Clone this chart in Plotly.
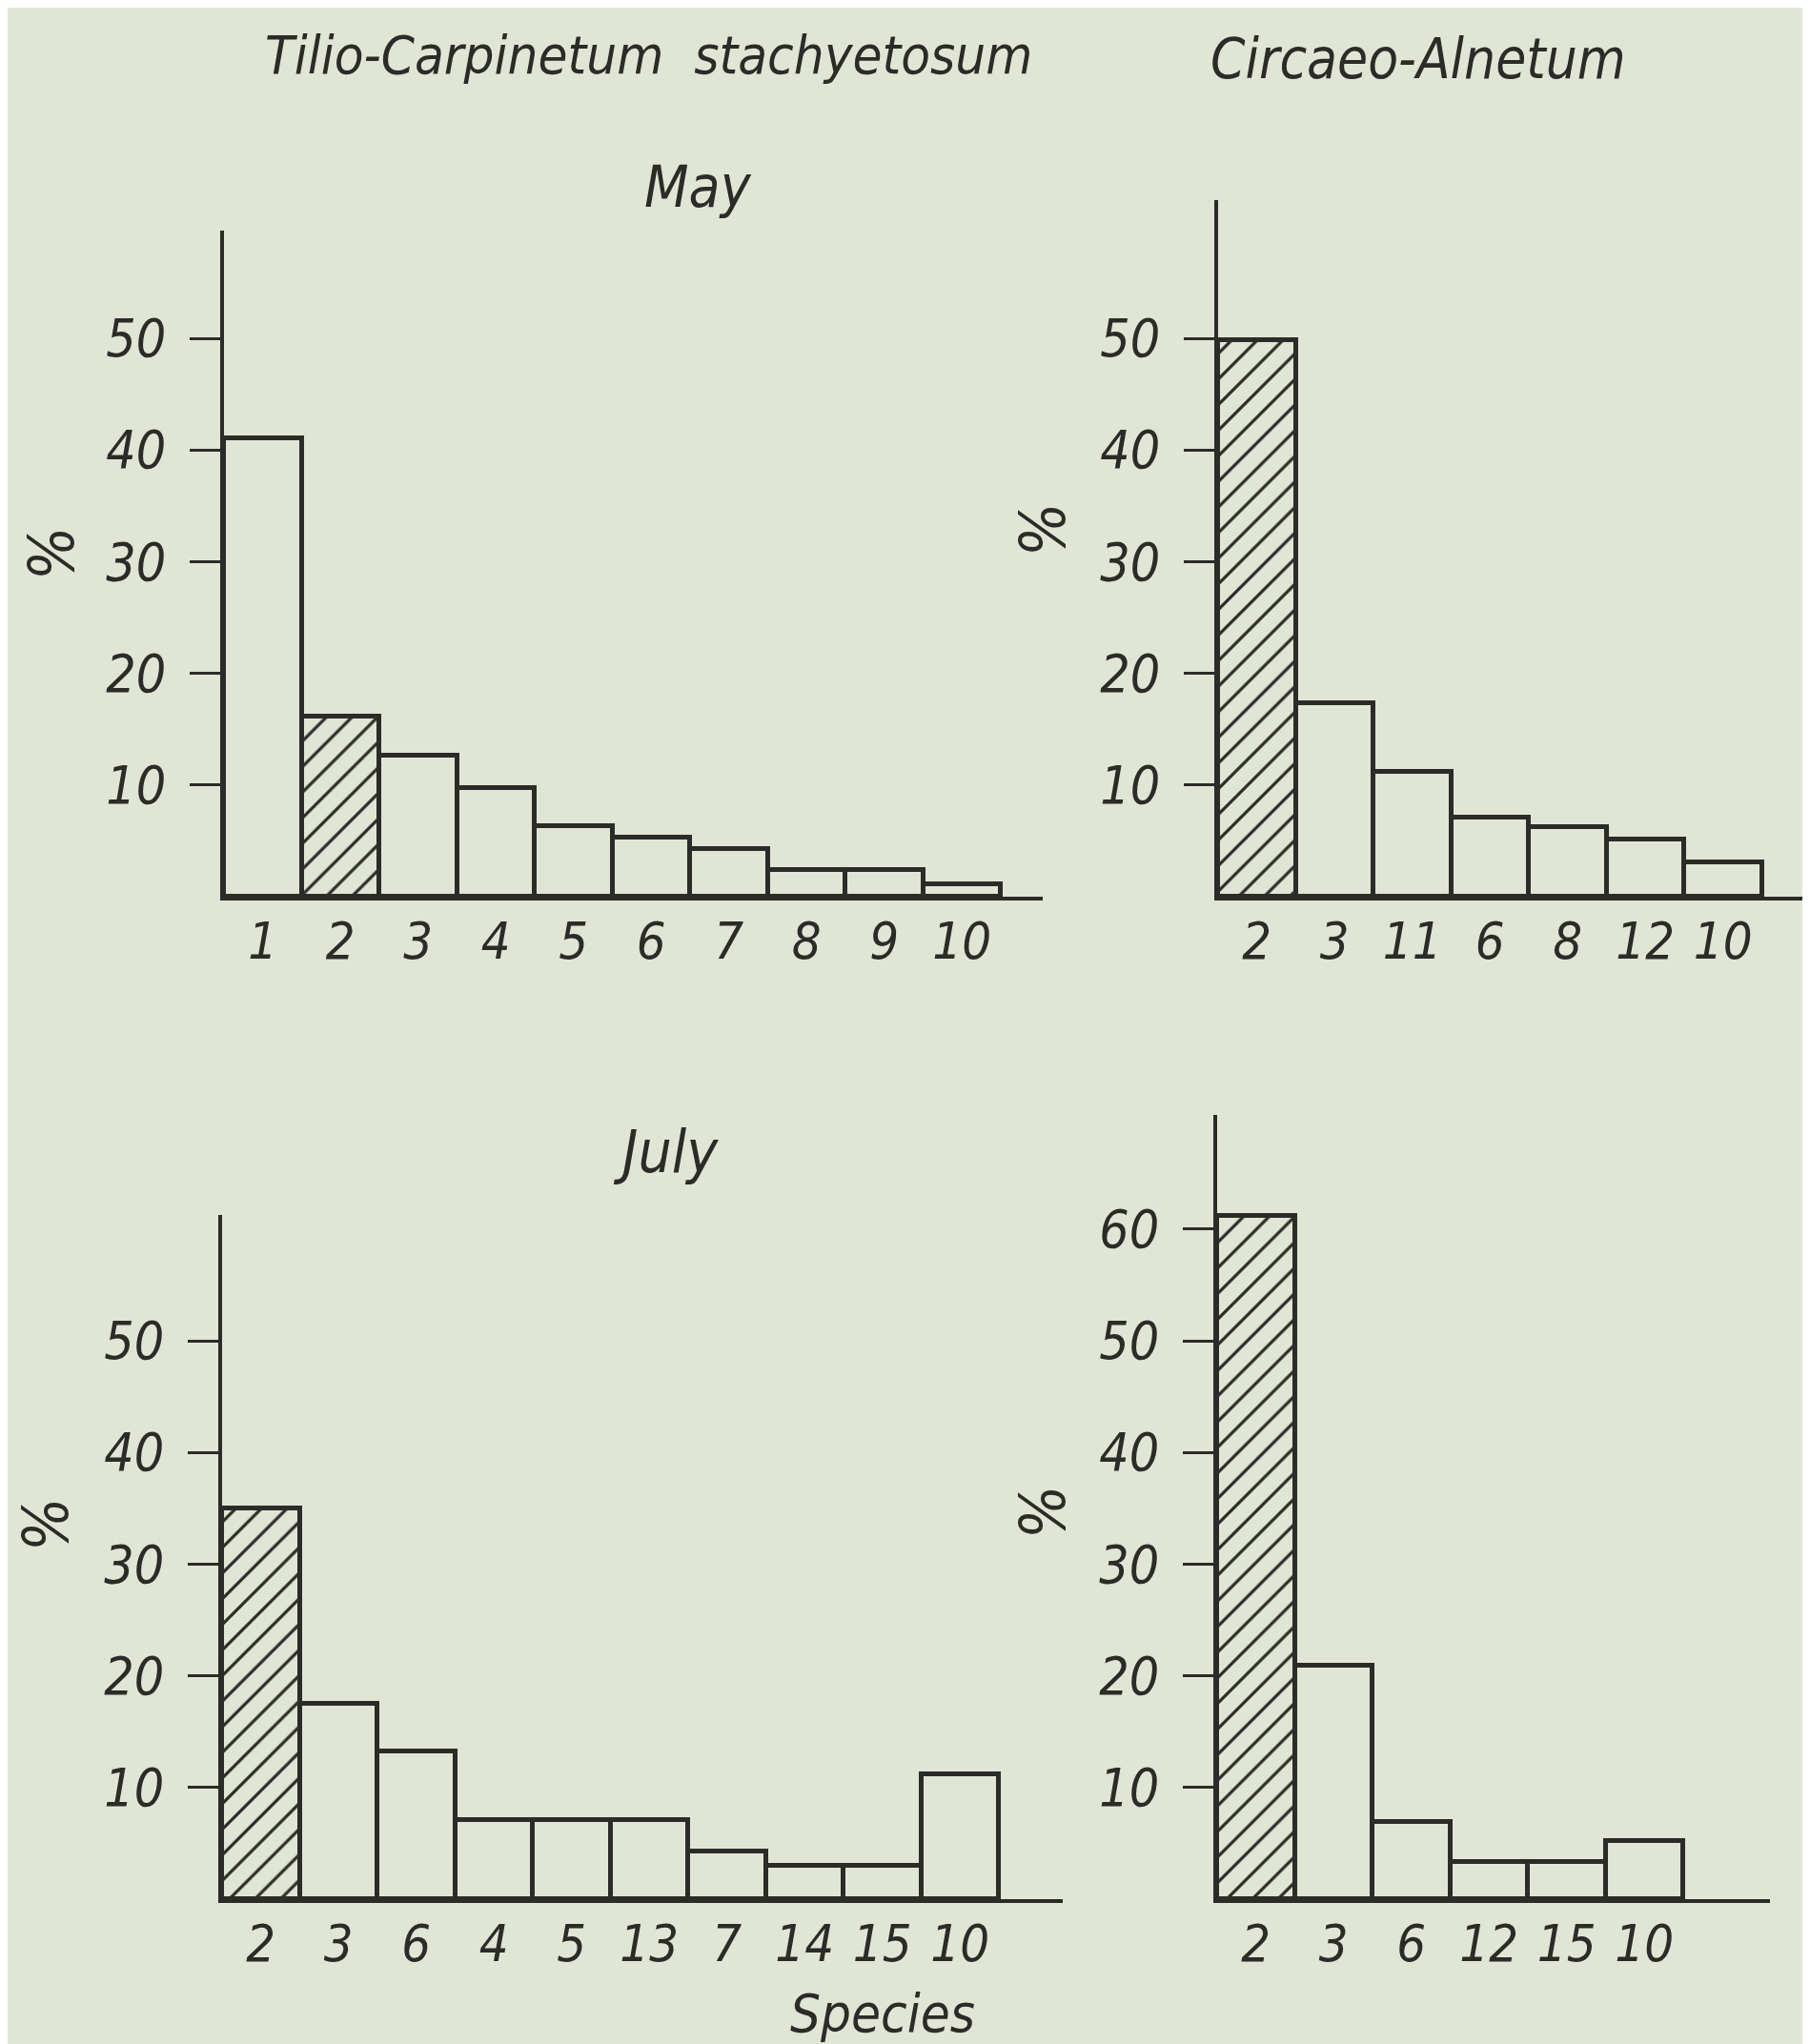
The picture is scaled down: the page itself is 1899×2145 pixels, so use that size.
import plotly.graph_objects as go

# ---------------- data ----------------
may_tilio_species = ["1", "2", "3", "4", "5", "6", "7", "8", "9", "10"]
may_tilio_pct = [41.0, 16.1, 12.6, 9.7, 6.3, 5.3, 4.3, 2.4, 2.4, 1.1]

may_circaeo_species = ["2", "3", "11", "6", "8", "12", "10"]
may_circaeo_pct = [49.8, 17.3, 11.2, 7.1, 6.2, 5.1, 3.1]

july_tilio_species = ["2", "3", "6", "4", "5", "13", "7", "14", "15", "10"]
july_tilio_pct = [35.0, 17.5, 13.2, 7.1, 7.1, 7.1, 4.3, 3.0, 3.0, 11.2]

july_circaeo_species = ["2", "3", "6", "12", "15", "10"]
july_circaeo_pct = [61.2, 20.9, 6.9, 3.3, 3.3, 5.2]

hatched_species = "2"

may_ticks = [10, 20, 30, 40, 50]
july_tilio_ticks = [10, 20, 30, 40, 50]
july_circaeo_ticks = [10, 20, 30, 40, 50, 60]

# ---------------- style ----------------
W, H = 1899, 2145
OFF = 8                      # page body margin of the html page
FW, FH = W - OFF, H - OFF    # figure size
BG = "#e1e5d5"
INK = "#2b2b27"
FONT = "DejaVu Sans Condensed, DejaVu Sans, sans-serif"


def px_x(p):
    return (p - OFF) / FW


def px_y(p):
    return 1 - (p - OFF) / FH


panels = [
    dict(species=may_tilio_species, pct=may_tilio_pct, ticks=may_ticks,
         x0=235, x1=1094, ybase=941, ytop=242),
    dict(species=may_circaeo_species, pct=may_circaeo_pct, ticks=may_ticks,
         x0=1278, x1=1899, ybase=941, ytop=210),
    dict(species=july_tilio_species, pct=july_tilio_pct, ticks=july_tilio_ticks,
         x0=233, x1=1115, ybase=1993, ytop=1275),
    dict(species=july_circaeo_species, pct=july_circaeo_pct, ticks=july_circaeo_ticks,
         x0=1277, x1=1857, ybase=1993, ytop=1170),
]
PX_PER_UNIT = 11.72
BAR_PX = 81.5

fig = go.Figure()
layout_axes = {}
for i, p in enumerate(panels, start=1):
    xa = "x" if i == 1 else f"x{i}"
    ya = "y" if i == 1 else f"y{i}"
    shapes = ["/" if s == hatched_species else "" for s in p["species"]]
    fig.add_trace(go.Bar(
        x=p["species"], y=p["pct"], xaxis=xa, yaxis=ya,
        marker=dict(color=BG, line=dict(color=INK, width=5),
                    pattern=dict(shape=shapes, fgcolor=INK, bgcolor=BG,
                                 fgopacity=1, size=19, solidity=0.17,
                                 fillmode="replace")),
        showlegend=False, hoverinfo="skip",
    ))
    n_cat = (p["x1"] - p["x0"]) / BAR_PX
    ymax = (p["ybase"] - p["ytop"]) / PX_PER_UNIT
    xkey = "xaxis" if i == 1 else f"xaxis{i}"
    ykey = "yaxis" if i == 1 else f"yaxis{i}"
    layout_axes[xkey] = dict(
        domain=[px_x(p["x0"]), min(1.0, px_x(p["x1"]))],
        anchor=ya, type="category",
        categoryorder="array", categoryarray=p["species"],
        range=[-0.5, -0.5 + n_cat],
        showline=True, linecolor=INK, linewidth=3.5,
        showgrid=False, zeroline=False, ticks="",
        tickfont=dict(family=FONT, size=54, color=INK, style="italic"),
        ticklabelstandoff=-4,
        fixedrange=True,
    )
    layout_axes[ykey] = dict(
        domain=[px_y(p["ybase"]), px_y(p["ytop"])],
        anchor=xa, range=[0, ymax],
        tickvals=p["ticks"], ticktext=[str(t) for t in p["ticks"]],
        showline=True, linecolor=INK, linewidth=3.5,
        showgrid=False, zeroline=False,
        ticks="outside", ticklen=32, tickwidth=3, tickcolor=INK,
        tickfont=dict(family=FONT, size=55, color=INK, style="italic"),
        ticklabelstandoff=14,
        fixedrange=True,
    )

fig.update_layout(**layout_axes)


def ann(text, x, y, size, angle=0):
    return dict(text=text, x=px_x(x), y=px_y(y), xref="paper", yref="paper",
                xanchor="center", yanchor="middle", showarrow=False,
                textangle=angle,
                font=dict(family=FONT, size=size, color=INK, style="italic"))


annotations = [
    ann("Tilio-Carpinetum  stachyetosum", 680, 57, 56),
    ann("Circaeo-Alnetum", 1488, 62, 58),
    ann("May", 732, 196, 60),
    ann("July", 698, 1208, 62),
    ann("Species", 926, 2112, 56),
    ann("%", 55, 581, 66, -90),
    ann("%", 1094, 556, 66, -90),
    ann("%", 48, 1600, 66, -90),
    ann("%", 1094, 1587, 66, -90),
]

fig.update_layout(
    width=FW, height=FH,
    margin=dict(l=0, r=0, t=0, b=0),
    paper_bgcolor=BG, plot_bgcolor="rgba(0,0,0,0)",
    bargap=0,
    annotations=annotations,
)

fig.write_html("out.html")
